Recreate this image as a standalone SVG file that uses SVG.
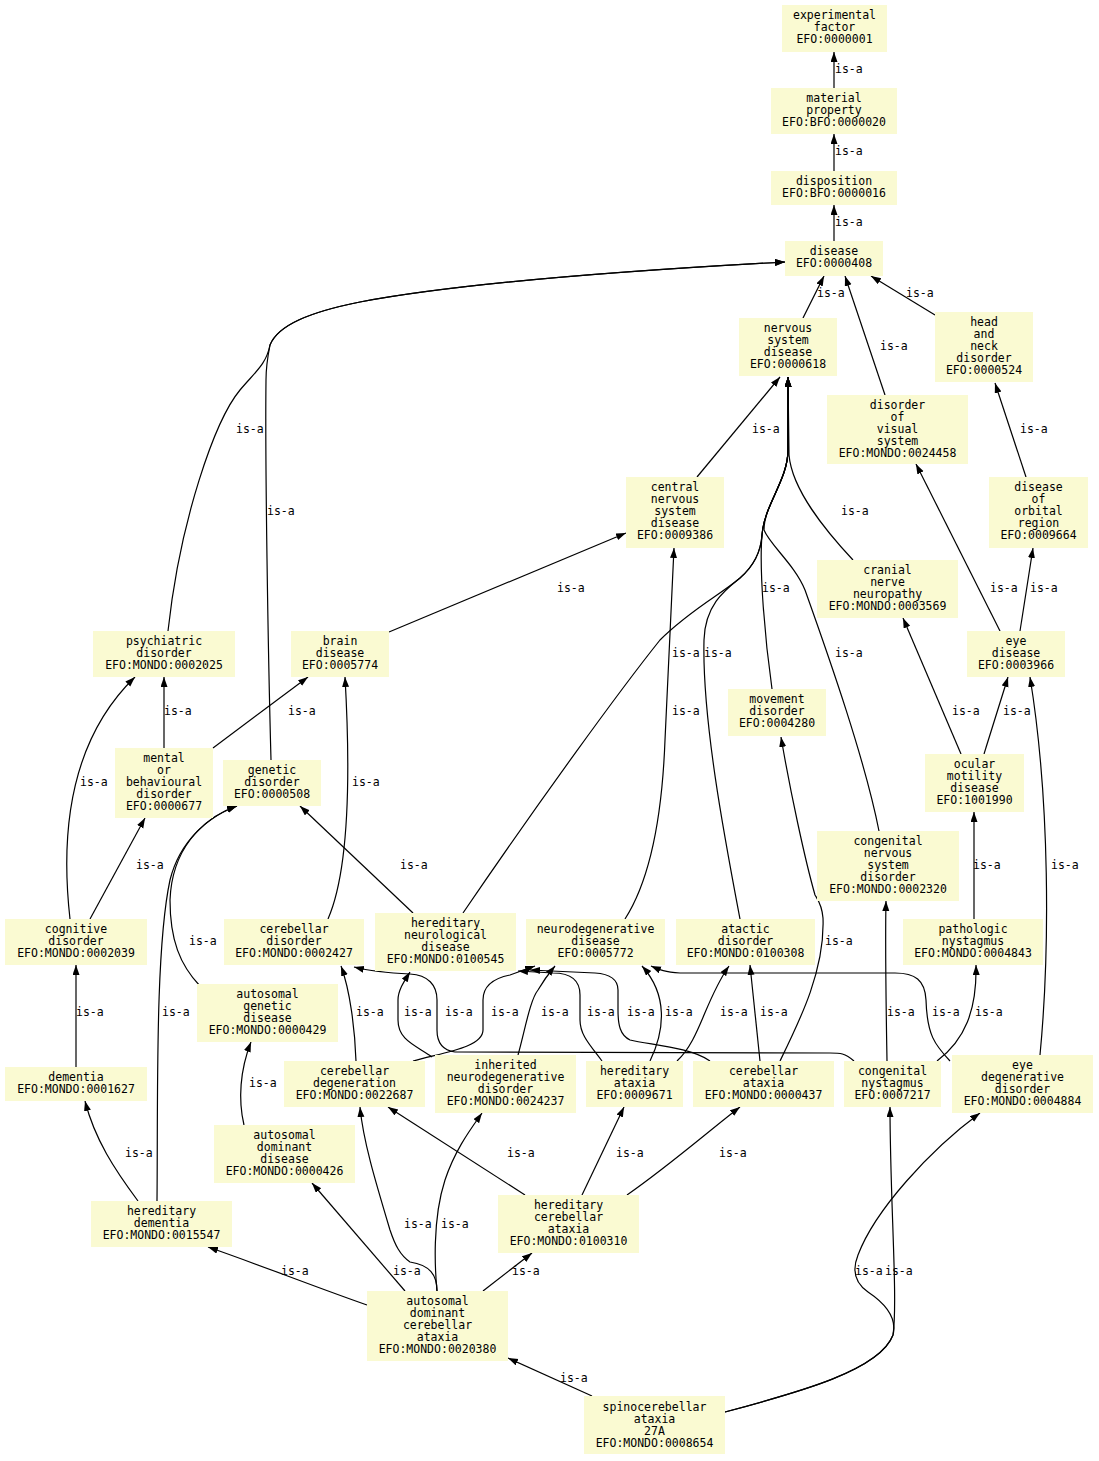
<svg xmlns="http://www.w3.org/2000/svg" width="1099" height="1461" viewBox="0 0 1099 1461">
<style>
.n rect{fill:#fafad2;stroke:none}
text{font-family:"DejaVu Sans Mono","Liberation Mono",monospace;font-size:11.5px;fill:#000}
.n text{text-anchor:middle}
.e path{fill:none;stroke:#000;stroke-width:1.2;marker-end:url(#ah)}
</style>
<defs>
<marker id="ah" markerUnits="userSpaceOnUse" markerWidth="11" markerHeight="8" refX="10" refY="3.5" orient="auto"><path d="M0,0 L10,3.5 L0,7 z" fill="#000"/></marker>
</defs>
<rect width="1099" height="1461" fill="#fff"/>
<g id="edges" class="e">
<path d="M834,88 L834,52"/>
<path d="M834,171 L834,134"/>
<path d="M834,241 L834,205"/>
<path d="M803,318 L824,276"/>
<path d="M885,395 L845,276"/>
<path d="M935,315 L871,276"/>
<path d="M168,631 C180,520 215,420 240,390 C255,372 266,365 270,345 C278,325 310,312 360,302 C450,285 600,272 785,262"/>
<path d="M271,760 C268,650 265,460 266,380 C266,365 268,355 270,345 C278,325 310,312 360,302 C450,285 600,272 785,262"/>
<path d="M697,477 L780,377"/>
<path d="M853,560 C825,530 792,490 789,455 L788,377"/>
<path d="M772,689 C765,640 759,570 762,535 C764,505 788,480 788,450 L788,377"/>
<path d="M463,913 C540,800 620,690 660,640 C690,610 720,595 740,578 C755,565 761,550 762,535 C764,505 788,480 788,450 L788,377"/>
<path d="M740,919 C725,840 702,720 704,640 C705,605 725,590 740,578 C755,565 761,550 762,535 C764,505 788,480 788,450 L788,377"/>
<path d="M879,831 C865,760 830,660 805,590 C795,565 770,545 764,530 C764,505 788,480 788,450 L788,377"/>
<path d="M389,632 L626,533"/>
<path d="M625,919 C650,880 662,820 665,740 L674,548"/>
<path d="M1000,631 L916,464"/>
<path d="M1020,631 L1033,548"/>
<path d="M1026,477 L995,383"/>
<path d="M961,754 L903,618"/>
<path d="M984,754 L1008,677"/>
<path d="M1040,1055 C1050,950 1050,800 1030,677"/>
<path d="M974,919 L974,812"/>
<path d="M887,1061 C886,1000 885,950 886,901"/>
<path d="M937,1061 C965,1040 977,1010 976,965"/>
<path d="M950,1061 C935,1045 927,1035 926,1000 C925,980 915,973 895,973 L680,973 C665,972 660,970 651,966"/>
<path d="M760,1061 L750,965"/>
<path d="M677,1061 C700,1040 705,1000 729,966"/>
<path d="M780,1061 C800,1020 825,970 823,918 C822,905 818,900 815,895 C805,860 790,790 781,737"/>
<path d="M854,1061 C845,1053 840,1053 830,1053 L455,1052 C440,1050 437,1040 437,1030 L437,1000 C437,985 428,975 410,974 C390,973 370,971 354,967"/>
<path d="M602,1061 C590,1045 580,1035 580,1020 L580,995 C580,980 570,973 553,973 L518,971"/>
<path d="M710,1061 C690,1047 650,1045 630,1040 C620,1035 618,1025 618,1010 L618,990 C618,980 610,974 595,973 L530,970"/>
<path d="M650,1061 C665,1030 668,995 642,966"/>
<path d="M356,1061 C355,1030 350,990 341,966"/>
<path d="M432,1057 C415,1045 398,1040 398,1020 L398,1000 C398,990 405,980 410,972"/>
<path d="M413,1061 C440,1053 483,1048 483,1030 L483,1000 C483,985 495,978 510,975 L535,966"/>
<path d="M518,1055 C525,1030 530,1000 538,990 C545,978 550,972 555,966"/>
<path d="M76,1067 L76,965"/>
<path d="M70,919 C60,830 70,740 135,677"/>
<path d="M90,919 L145,818"/>
<path d="M164,748 L164,677"/>
<path d="M213,748 L308,677"/>
<path d="M328,919 C345,880 352,800 345,677"/>
<path d="M413,913 L300,806"/>
<path d="M200,986 C180,965 170,940 170,900 C172,850 200,820 237,806"/>
<path d="M157,1201 C158,1100 155,950 170,880 C180,840 210,815 237,806"/>
<path d="M138,1201 C115,1170 95,1140 85,1101"/>
<path d="M244,1125 C238,1100 240,1070 251,1042"/>
<path d="M367,1305 C310,1285 260,1265 208,1247"/>
<path d="M405,1291 L312,1183"/>
<path d="M437,1291 C437,1275 430,1265 410,1262 C400,1255 395,1245 390,1230 C375,1180 363,1140 360,1107"/>
<path d="M437,1291 C435,1270 432,1220 445,1180 C455,1150 470,1130 482,1113"/>
<path d="M483,1291 L532,1253"/>
<path d="M525,1195 L388,1107"/>
<path d="M582,1195 L624,1107"/>
<path d="M627,1195 C670,1165 710,1130 740,1107"/>
<path d="M592,1396 L508,1358"/>
<path d="M725,1412 C800,1392 880,1370 893,1335 C898,1315 880,1300 868,1292 C855,1283 852,1270 858,1255 C875,1210 930,1150 980,1113"/>
<path d="M725,1412 C800,1392 880,1370 893,1335 C898,1300 890,1200 890,1107"/>
</g>
<g id="edge-labels">
<text x="835" y="73">is-a</text>
<text x="835" y="155">is-a</text>
<text x="835" y="226">is-a</text>
<text x="817" y="297">is-a</text>
<text x="880" y="350">is-a</text>
<text x="906" y="297">is-a</text>
<text x="236" y="433">is-a</text>
<text x="267" y="515">is-a</text>
<text x="752" y="433">is-a</text>
<text x="841" y="515">is-a</text>
<text x="762" y="592">is-a</text>
<text x="672" y="657">is-a</text>
<text x="704" y="657">is-a</text>
<text x="835" y="657">is-a</text>
<text x="557" y="592">is-a</text>
<text x="672" y="715">is-a</text>
<text x="990" y="592">is-a</text>
<text x="1030" y="592">is-a</text>
<text x="1020" y="433">is-a</text>
<text x="952" y="715">is-a</text>
<text x="1003" y="715">is-a</text>
<text x="1051" y="869">is-a</text>
<text x="973" y="869">is-a</text>
<text x="887" y="1016">is-a</text>
<text x="975" y="1016">is-a</text>
<text x="932" y="1016">is-a</text>
<text x="760" y="1016">is-a</text>
<text x="720" y="1016">is-a</text>
<text x="825" y="945">is-a</text>
<text x="445" y="1016">is-a</text>
<text x="587" y="1016">is-a</text>
<text x="627" y="1016">is-a</text>
<text x="665" y="1016">is-a</text>
<text x="356" y="1016">is-a</text>
<text x="404" y="1016">is-a</text>
<text x="491" y="1016">is-a</text>
<text x="541" y="1016">is-a</text>
<text x="76" y="1016">is-a</text>
<text x="80" y="786">is-a</text>
<text x="136" y="869">is-a</text>
<text x="164" y="715">is-a</text>
<text x="288" y="715">is-a</text>
<text x="352" y="786">is-a</text>
<text x="400" y="869">is-a</text>
<text x="189" y="945">is-a</text>
<text x="162" y="1016">is-a</text>
<text x="125" y="1157">is-a</text>
<text x="249" y="1087">is-a</text>
<text x="281" y="1275">is-a</text>
<text x="393" y="1275">is-a</text>
<text x="404" y="1228">is-a</text>
<text x="441" y="1228">is-a</text>
<text x="512" y="1275">is-a</text>
<text x="507" y="1157">is-a</text>
<text x="616" y="1157">is-a</text>
<text x="719" y="1157">is-a</text>
<text x="560" y="1382">is-a</text>
<text x="855" y="1275">is-a</text>
<text x="885" y="1275">is-a</text>
</g>
<g id="n1" class="n"><rect x="782" y="5" width="105" height="47"/><text x="834.5" y="19">experimental<tspan x="834.5" dy="12">factor</tspan><tspan x="834.5" dy="12">EFO:0000001</tspan></text></g>
<g id="n2" class="n"><rect x="771" y="88" width="126" height="46"/><text x="834" y="102">material<tspan x="834" dy="12">property</tspan><tspan x="834" dy="12">EFO:BFO:0000020</tspan></text></g>
<g id="n3" class="n"><rect x="771" y="171" width="126" height="34"/><text x="834" y="185">disposition<tspan x="834" dy="12">EFO:BFO:0000016</tspan></text></g>
<g id="n4" class="n"><rect x="785" y="241" width="98" height="35"/><text x="834" y="255">disease<tspan x="834" dy="12">EFO:0000408</tspan></text></g>
<g id="n5" class="n"><rect x="739" y="318" width="98" height="58"/><text x="788" y="332">nervous<tspan x="788" dy="12">system</tspan><tspan x="788" dy="12">disease</tspan><tspan x="788" dy="12">EFO:0000618</tspan></text></g>
<g id="n6" class="n"><rect x="935" y="312" width="98" height="70"/><text x="984" y="326">head<tspan x="984" dy="12">and</tspan><tspan x="984" dy="12">neck</tspan><tspan x="984" dy="12">disorder</tspan><tspan x="984" dy="12">EFO:0000524</tspan></text></g>
<g id="n7" class="n"><rect x="827" y="395" width="141" height="69"/><text x="897.5" y="409">disorder<tspan x="897.5" dy="12">of</tspan><tspan x="897.5" dy="12">visual</tspan><tspan x="897.5" dy="12">system</tspan><tspan x="897.5" dy="12">EFO:MONDO:0024458</tspan></text></g>
<g id="n8" class="n"><rect x="626" y="477" width="98" height="71"/><text x="675" y="491">central<tspan x="675" dy="12">nervous</tspan><tspan x="675" dy="12">system</tspan><tspan x="675" dy="12">disease</tspan><tspan x="675" dy="12">EFO:0009386</tspan></text></g>
<g id="n9" class="n"><rect x="989" y="477" width="99" height="71"/><text x="1038.5" y="491">disease<tspan x="1038.5" dy="12">of</tspan><tspan x="1038.5" dy="12">orbital</tspan><tspan x="1038.5" dy="12">region</tspan><tspan x="1038.5" dy="12">EFO:0009664</tspan></text></g>
<g id="n10" class="n"><rect x="817" y="560" width="141" height="58"/><text x="887.5" y="574">cranial<tspan x="887.5" dy="12">nerve</tspan><tspan x="887.5" dy="12">neuropathy</tspan><tspan x="887.5" dy="12">EFO:MONDO:0003569</tspan></text></g>
<g id="n11" class="n"><rect x="967" y="631" width="98" height="46"/><text x="1016" y="645">eye<tspan x="1016" dy="12">disease</tspan><tspan x="1016" dy="12">EFO:0003966</tspan></text></g>
<g id="n12" class="n"><rect x="93" y="631" width="142" height="46"/><text x="164" y="645">psychiatric<tspan x="164" dy="12">disorder</tspan><tspan x="164" dy="12">EFO:MONDO:0002025</tspan></text></g>
<g id="n13" class="n"><rect x="291" y="631" width="98" height="46"/><text x="340" y="645">brain<tspan x="340" dy="12">disease</tspan><tspan x="340" dy="12">EFO:0005774</tspan></text></g>
<g id="n14" class="n"><rect x="728" y="689" width="98" height="47"/><text x="777" y="703">movement<tspan x="777" dy="12">disorder</tspan><tspan x="777" dy="12">EFO:0004280</tspan></text></g>
<g id="n15" class="n"><rect x="115" y="748" width="98" height="70"/><text x="164" y="762">mental<tspan x="164" dy="12">or</tspan><tspan x="164" dy="12">behavioural</tspan><tspan x="164" dy="12">disorder</tspan><tspan x="164" dy="12">EFO:0000677</tspan></text></g>
<g id="n16" class="n"><rect x="223" y="760" width="98" height="46"/><text x="272" y="774">genetic<tspan x="272" dy="12">disorder</tspan><tspan x="272" dy="12">EFO:0000508</tspan></text></g>
<g id="n17" class="n"><rect x="925" y="754" width="99" height="58"/><text x="974.5" y="768">ocular<tspan x="974.5" dy="12">motility</tspan><tspan x="974.5" dy="12">disease</tspan><tspan x="974.5" dy="12">EFO:1001990</tspan></text></g>
<g id="n18" class="n"><rect x="817" y="831" width="142" height="70"/><text x="888" y="845">congenital<tspan x="888" dy="12">nervous</tspan><tspan x="888" dy="12">system</tspan><tspan x="888" dy="12">disorder</tspan><tspan x="888" dy="12">EFO:MONDO:0002320</tspan></text></g>
<g id="n19" class="n"><rect x="5" y="919" width="142" height="46"/><text x="76" y="933">cognitive<tspan x="76" dy="12">disorder</tspan><tspan x="76" dy="12">EFO:MONDO:0002039</tspan></text></g>
<g id="n20" class="n"><rect x="224" y="919" width="140" height="46"/><text x="294" y="933">cerebellar<tspan x="294" dy="12">disorder</tspan><tspan x="294" dy="12">EFO:MONDO:0002427</tspan></text></g>
<g id="n21" class="n"><rect x="375" y="913" width="141" height="58"/><text x="445.5" y="927">hereditary<tspan x="445.5" dy="12">neurological</tspan><tspan x="445.5" dy="12">disease</tspan><tspan x="445.5" dy="12">EFO:MONDO:0100545</tspan></text></g>
<g id="n22" class="n"><rect x="526" y="919" width="139" height="46"/><text x="595.5" y="933">neurodegenerative<tspan x="595.5" dy="12">disease</tspan><tspan x="595.5" dy="12">EFO:0005772</tspan></text></g>
<g id="n23" class="n"><rect x="676" y="919" width="139" height="46"/><text x="745.5" y="933">atactic<tspan x="745.5" dy="12">disorder</tspan><tspan x="745.5" dy="12">EFO:MONDO:0100308</tspan></text></g>
<g id="n24" class="n"><rect x="903" y="919" width="140" height="46"/><text x="973" y="933">pathologic<tspan x="973" dy="12">nystagmus</tspan><tspan x="973" dy="12">EFO:MONDO:0004843</tspan></text></g>
<g id="n25" class="n"><rect x="197" y="984" width="141" height="58"/><text x="267.5" y="998">autosomal<tspan x="267.5" dy="12">genetic</tspan><tspan x="267.5" dy="12">disease</tspan><tspan x="267.5" dy="12">EFO:MONDO:0000429</tspan></text></g>
<g id="n26" class="n"><rect x="5" y="1067" width="142" height="34"/><text x="76" y="1081">dementia<tspan x="76" dy="12">EFO:MONDO:0001627</tspan></text></g>
<g id="n27" class="n"><rect x="284" y="1061" width="141" height="46"/><text x="354.5" y="1075">cerebellar<tspan x="354.5" dy="12">degeneration</tspan><tspan x="354.5" dy="12">EFO:MONDO:0022687</tspan></text></g>
<g id="n28" class="n"><rect x="435" y="1055" width="141" height="58"/><text x="505.5" y="1069">inherited<tspan x="505.5" dy="12">neurodegenerative</tspan><tspan x="505.5" dy="12">disorder</tspan><tspan x="505.5" dy="12">EFO:MONDO:0024237</tspan></text></g>
<g id="n29" class="n"><rect x="586" y="1061" width="97" height="46"/><text x="634.5" y="1075">hereditary<tspan x="634.5" dy="12">ataxia</tspan><tspan x="634.5" dy="12">EFO:0009671</tspan></text></g>
<g id="n30" class="n"><rect x="693" y="1061" width="141" height="46"/><text x="763.5" y="1075">cerebellar<tspan x="763.5" dy="12">ataxia</tspan><tspan x="763.5" dy="12">EFO:MONDO:0000437</tspan></text></g>
<g id="n31" class="n"><rect x="844" y="1061" width="97" height="46"/><text x="892.5" y="1075">congenital<tspan x="892.5" dy="12">nystagmus</tspan><tspan x="892.5" dy="12">EFO:0007217</tspan></text></g>
<g id="n32" class="n"><rect x="952" y="1055" width="141" height="58"/><text x="1022.5" y="1069">eye<tspan x="1022.5" dy="12">degenerative</tspan><tspan x="1022.5" dy="12">disorder</tspan><tspan x="1022.5" dy="12">EFO:MONDO:0004884</tspan></text></g>
<g id="n33" class="n"><rect x="214" y="1125" width="141" height="58"/><text x="284.5" y="1139">autosomal<tspan x="284.5" dy="12">dominant</tspan><tspan x="284.5" dy="12">disease</tspan><tspan x="284.5" dy="12">EFO:MONDO:0000426</tspan></text></g>
<g id="n34" class="n"><rect x="91" y="1201" width="141" height="46"/><text x="161.5" y="1215">hereditary<tspan x="161.5" dy="12">dementia</tspan><tspan x="161.5" dy="12">EFO:MONDO:0015547</tspan></text></g>
<g id="n35" class="n"><rect x="498" y="1195" width="141" height="58"/><text x="568.5" y="1209">hereditary<tspan x="568.5" dy="12">cerebellar</tspan><tspan x="568.5" dy="12">ataxia</tspan><tspan x="568.5" dy="12">EFO:MONDO:0100310</tspan></text></g>
<g id="n36" class="n"><rect x="367" y="1291" width="141" height="70"/><text x="437.5" y="1305">autosomal<tspan x="437.5" dy="12">dominant</tspan><tspan x="437.5" dy="12">cerebellar</tspan><tspan x="437.5" dy="12">ataxia</tspan><tspan x="437.5" dy="12">EFO:MONDO:0020380</tspan></text></g>
<g id="n37" class="n"><rect x="584" y="1396" width="141" height="58"/><text x="654.5" y="1411">spinocerebellar<tspan x="654.5" dy="12">ataxia</tspan><tspan x="654.5" dy="12">27A</tspan><tspan x="654.5" dy="12">EFO:MONDO:0008654</tspan></text></g>
</svg>
